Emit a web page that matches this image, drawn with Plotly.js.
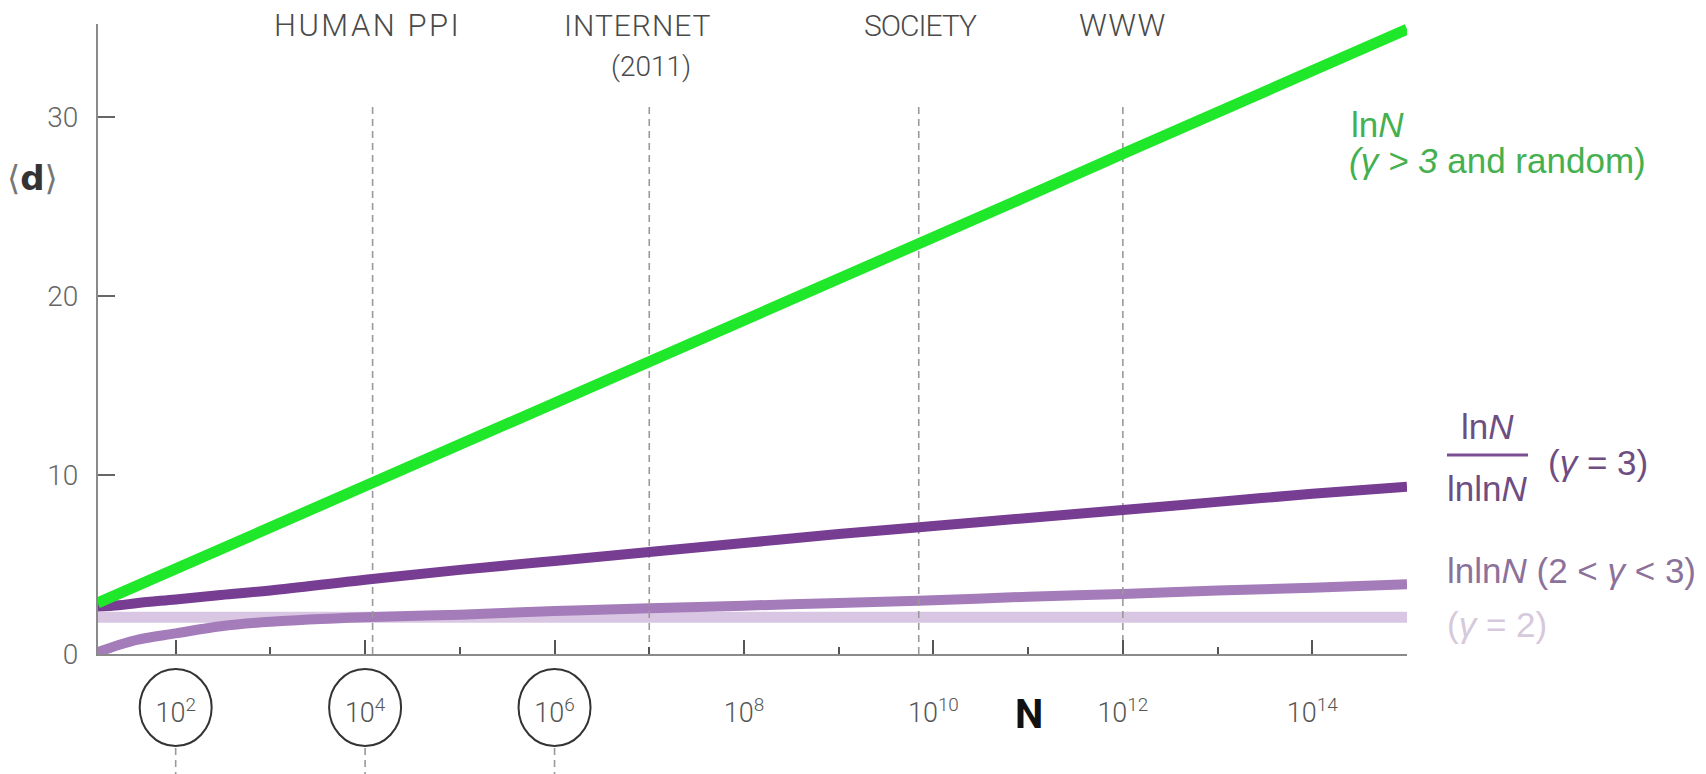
<!DOCTYPE html>
<html><head><meta charset="utf-8">
<script src="https://cdn.plot.ly/plotly-3.0.1.min.js"></script>
<style>html,body{margin:0;padding:0;background:#fff;overflow:hidden}</style>
</head><body><div id="chart" style="width:1706px;height:774px"></div>
<script>
// ---- data ----
const N        = [15, 25, 40, 100, 300, 1e3, 1e4, 1e5, 1e6, 1e7, 1e8, 1e9, 1e10, 1e11, 1e12, 1e13, 1e14, 1e15];
const dRandom  = [2.85, 3.36, 3.83, 4.75, 5.86, 7.07, 9.4, 11.7, 14.0, 16.35, 18.65, 21.0, 23.3, 25.6, 27.95, 30.25, 32.6, 34.9];
const dGamma3  = [2.65, 2.72, 2.85, 3.05, 3.3, 3.55, 4.15, 4.7, 5.2, 5.7, 6.2, 6.7, 7.15, 7.6, 8.05, 8.5, 8.95, 9.35];
const dGamma23 = [0.1, 0.5, 0.8, 1.15, 1.55, 1.8, 2.05, 2.2, 2.4, 2.55, 2.7, 2.85, 3.0, 3.2, 3.35, 3.55, 3.7, 3.9];
const dGamma2  = [2.05, 2.05, 2.05, 2.05, 2.05, 2.05, 2.05, 2.05, 2.05, 2.05, 2.05, 2.05, 2.05, 2.05, 2.05, 2.05, 2.05, 2.05];

const refNames = ['HUMAN PPI', 'INTERNET', 'SOCIETY', 'WWW'];
const refSub   = ['', '(2011)', '', ''];
const refN     = [1.2e4, 1e7, 7e9, 1e12];
const refTop   = 30.8;

const tickN    = [1e2, 1e4, 1e6, 1e8, 1e10, 1e12, 1e14];
const tickText = ['10<sup>2</sup>', '10<sup>4</sup>', '10<sup>6</sup>', '10<sup>8</sup>', '10<sup>10</sup>', '10<sup>12</sup>', '10<sup>14</sup>'];
const minorN   = [1e3, 1e5, 1e7, 1e9, 1e11, 1e13];
const circledN = [1e2, 1e4, 1e6];
const yTicks   = [0, 10, 20, 30];

// ---- layout helpers (pixel -> paper) ----
const L = 98, R = 1407, T = 24, B = 654;
const px = v => (v - L) / (R - L);
const py = v => (B - v) / (B - T);

const traces = [];
traces.push({x: N, y: dGamma2, mode: 'lines', line: {color: '#d9c6e2', width: 11, shape: 'spline'}, hoverinfo: 'skip'});
traces.push({x: N, y: dGamma23, mode: 'lines', line: {color: '#a47cba', width: 10, shape: 'spline'}, hoverinfo: 'skip'});
refN.forEach(n => traces.push({x: [n, n], y: [0, refTop], mode: 'lines',
  line: {color: '#9a9a9a', width: 1.6, dash: '7px,5px'}, hoverinfo: 'skip'}));
traces.push({x: N, y: dGamma3, mode: 'lines', line: {color: '#773d92', width: 10, shape: 'spline'}, hoverinfo: 'skip'});
traces.push({x: N, y: dRandom, mode: 'lines', line: {color: '#1fe82a', width: 11}, hoverinfo: 'skip'});

const topFont = 'Roboto, Liberation Sans, sans-serif';
const spacing = [2.5, 1, -1, 1.5];
const sizes = [31, 30, 30, 31];
const shiftLog = [-0.05, -0.12, 0.02, 0.0];
const annotations = [];
refNames.forEach((t, i) => {
  annotations.push({xref: 'x', yref: 'paper', x: Math.log10(refN[i]) + shiftLog[i], y: py(26),
    text: '<span style="letter-spacing:' + spacing[i] + 'px">' + t + '</span>', showarrow: false, xanchor: 'center', yanchor: 'middle',
    font: {family: topFont, weight: 300, size: sizes[i], color: '#4a4a4a'}});
  if (refSub[i]) annotations.push({xref: 'x', yref: 'paper', x: Math.log10(refN[i]) + 0.02, y: py(66),
    text: refSub[i], showarrow: false, xanchor: 'center', yanchor: 'middle',
    font: {family: topFont, weight: 300, size: 28, color: '#4a4a4a'}});
});
// y label
annotations.push({xref: 'paper', yref: 'paper', x: px(32), y: py(178), showarrow: false, xanchor: 'center', yanchor: 'middle',
  text: '<span style="color:#777">⟨</span><b>d</b><span style="color:#777">⟩</span>',
  font: {family: 'DejaVu Sans, sans-serif', size: 34, color: '#333'}});
// x label
annotations.push({xref: 'paper', yref: 'paper', x: px(1029), y: py(714), showarrow: false, xanchor: 'center', yanchor: 'middle',
  text: '<b>N</b>', font: {family: 'Roboto, sans-serif', size: 40, color: '#111'}});
// series labels
const rf = {family: 'Liberation Sans, Arial, sans-serif', size: 35};
annotations.push({xref: 'paper', yref: 'paper', x: px(1349), y: py(125), showarrow: false, xanchor: 'left', yanchor: 'middle',
  text: 'ln<i>N</i>', font: Object.assign({color: '#45b04f'}, rf)});
annotations.push({xref: 'paper', yref: 'paper', x: px(1347), y: py(160), showarrow: false, xanchor: 'left', yanchor: 'middle',
  text: '<i>(γ > 3</i> and random)', font: Object.assign({color: '#45b04f'}, rf)});
annotations.push({xref: 'paper', yref: 'paper', x: px(1487), y: py(427), showarrow: false, xanchor: 'center', yanchor: 'middle',
  text: 'ln<i>N</i>', font: Object.assign({color: '#6e4e82'}, rf)});
annotations.push({xref: 'paper', yref: 'paper', x: px(1487), y: py(488), showarrow: false, xanchor: 'center', yanchor: 'middle',
  text: 'lnln<i>N</i>', font: Object.assign({color: '#6e4e82'}, rf)});
annotations.push({xref: 'paper', yref: 'paper', x: px(1546), y: py(462), showarrow: false, xanchor: 'left', yanchor: 'middle',
  text: '(<i>γ</i> = 3)', font: Object.assign({color: '#6e4e82'}, rf)});
annotations.push({xref: 'paper', yref: 'paper', x: px(1445), y: py(570), showarrow: false, xanchor: 'left', yanchor: 'middle',
  text: 'lnln<i>N</i> (2 < <i>γ</i> < 3)', font: Object.assign({color: '#8c729b'}, rf)});
annotations.push({xref: 'paper', yref: 'paper', x: px(1445), y: py(624), showarrow: false, xanchor: 'left', yanchor: 'middle',
  text: '(<i>γ</i> = 2)', font: Object.assign({color: '#d6c9dc'}, rf)});

const shapes = [];
// fraction bar
shapes.push({type: 'line', xref: 'paper', yref: 'paper', x0: px(1447), x1: px(1528), y0: py(455), y1: py(455),
  line: {color: '#7a4e92', width: 3}});
// circles round the first tick labels (half-width 0.38 decade on the log axis) and dashed stubs below them
const halfDecades = 0.38;
circledN.forEach(n => {
  shapes.push({type: 'circle', xref: 'x', yref: 'paper',
    x0: n / Math.pow(10, halfDecades), x1: n * Math.pow(10, halfDecades),
    y0: py(746), y1: py(669), line: {color: '#333', width: 2}});
  shapes.push({type: 'line', xref: 'x', yref: 'paper', x0: n, x1: n, y0: py(748), y1: py(780),
    line: {color: '#9a9a9a', width: 1.6, dash: '7px,5px'}});
});

const layout = {
  width: 1706, height: 774,
  margin: {l: L, r: 1706 - R, t: T, b: 774 - B, pad: 0},
  paper_bgcolor: '#fff', plot_bgcolor: '#fff',
  showlegend: false,
  xaxis: {type: 'log', range: [1.18, 15.0], showgrid: false, zeroline: false,
    showline: true, linecolor: '#8a8a8a', linewidth: 2,
    ticks: 'inside', ticklen: 14, tickwidth: 2, tickcolor: '#555',
    tickvals: tickN, ticktext: tickText, ticklabelstandoff: 34,
    tickfont: {family: topFont, weight: 300, size: 27, color: '#555'},
    minor: {tickvals: minorN, ticks: 'inside', ticklen: 7, tickwidth: 2, tickcolor: '#555', showgrid: false}},
  yaxis: {range: [0, 35.2], showgrid: false, zeroline: false,
    showline: true, linecolor: '#8a8a8a', linewidth: 2,
    ticks: 'inside', ticklen: 17, tickwidth: 2, tickcolor: '#666',
    tickvals: yTicks, ticklabelstandoff: 12,
    tickfont: {family: topFont, weight: 300, size: 28, color: '#666'}},
  annotations: annotations,
  shapes: shapes
};
Plotly.newPlot('chart', traces, layout, {displayModeBar: false});
</script></body></html>
